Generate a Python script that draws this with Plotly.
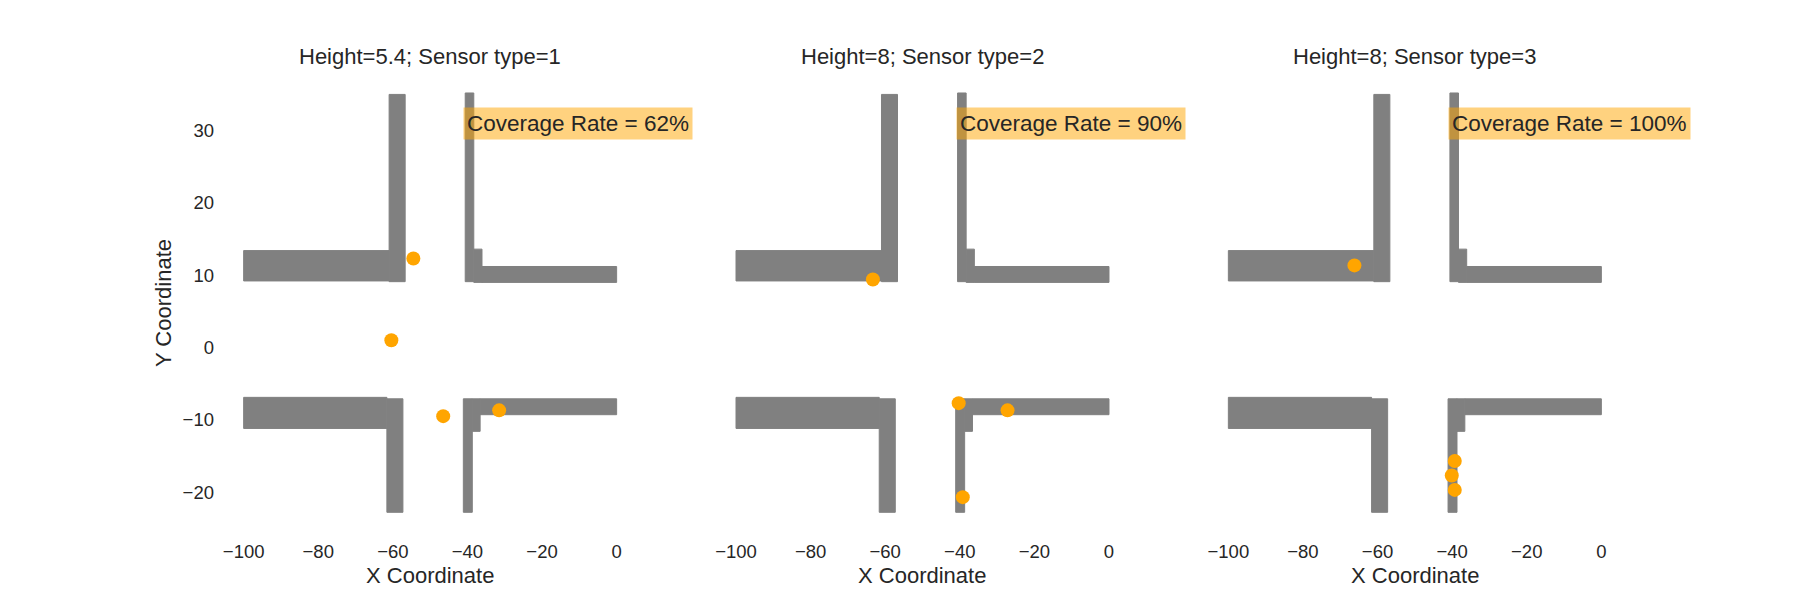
import plotly.graph_objects as go
from plotly.subplots import make_subplots

# wall rectangles (same floor plan in every panel)
wall_x0 = [-100, -61.0, -40.6, -38.3, -36.1, -100, -61.6, -41.1, -38.7, -36.6]
wall_x1 = [-61.0, -56.7, -38.3, -36.1, 0, -61.6, -57.3, -38.7, -36.6, 0]
wall_y0 = [9.2, 9.1, 9.1, 9.0, 9.0, -11.2, -22.8, -22.8, -11.6, -9.3]
wall_y1 = [13.4, 35.0, 35.2, 13.6, 11.2, -6.9, -7.1, -7.1, -7.1, -7.1]

# sensor positions per panel
titles = ["Height=5.4; Sensor type=1", "Height=8; Sensor type=2", "Height=8; Sensor type=3"]
coverage = [62, 90, 100]
sensor_x = [
    [-54.5, -60.4, -46.5, -31.5],
    [-63.3, -40.3, -27.2, -39.2],
    [-66.2, -39.3, -40.1, -39.3],
]
sensor_y = [
    [12.3, 1.0, -9.5, -8.7],
    [9.4, -7.7, -8.7, -20.7],
    [11.35, -15.7, -17.7, -19.7],
]

x_ticks = [-100, -80, -60, -40, -20, 0]
y_ticks = [-20, -10, 0, 10, 20, 30]

FONT = "Arial, Liberation Sans, sans-serif"
TXT = "#262626"

fig = make_subplots(rows=1, cols=3, shared_yaxes=True)

# page has an 8px body margin, so domains are nudged left/up to compensate
dx = 8 / 1800
dy = 8 / 600
domains = [[0.125 - dx, 0.35294 - dx], [0.39853 - dx, 0.62647 - dx], [0.67206 - dx, 0.9 - dx]]
ydom = [0.11 + dy, 0.88 + dy]

for i in range(3):
    col = i + 1
    xr = "x" if i == 0 else f"x{col}"
    yr = "y" if i == 0 else f"y{col}"
    for k in range(len(wall_x0)):
        fig.add_shape(type="rect", xref=xr, yref=yr,
                      x0=wall_x0[k], x1=wall_x1[k], y0=wall_y0[k], y1=wall_y1[k],
                      fillcolor="#808080", line=dict(width=1, color="#808080"), layer="below")
    fig.add_trace(go.Scatter(x=sensor_x[i], y=sensor_y[i], mode="markers",
                             marker=dict(color="#FFA500", size=14),
                             showlegend=False, hoverinfo="x+y"),
                  row=1, col=col)
    fig.add_annotation(xref=xr, yref=yr, x=-41.1, y=31.0, xanchor="left", yanchor="middle",
                       text=f"Coverage Rate = {coverage[i]}%", showarrow=False,
                       bgcolor="rgba(255,165,0,0.5)", borderpad=3,
                       font=dict(family=FONT, size=22.5, color=TXT))
    # panel title
    fig.add_annotation(xref="paper", yref="paper", x=sum(domains[i]) / 2, y=ydom[1],
                       xanchor="center", yanchor="bottom", yshift=1,
                       text=titles[i], showarrow=False,
                       font=dict(family=FONT, size=22, color=TXT))
    # x axis title
    fig.add_annotation(xref="paper", yref="paper", x=sum(domains[i]) / 2, y=1 - 567 / 600,
                       xanchor="center", yanchor="middle",
                       text="X Coordinate", showarrow=False,
                       font=dict(family=FONT, size=22, color=TXT))
    fig.update_xaxes(row=1, col=col, domain=domains[i], range=[-105, 5],
                     tickvals=x_ticks, showgrid=False, zeroline=False, showline=False,
                     ticks="", ticklabelstandoff=4,
                     tickfont=dict(family=FONT, size=18.5, color=TXT),
                     automargin=False)
    fig.update_yaxes(row=1, col=col, domain=ydom, range=[-25.8, 38.1],
                     tickvals=y_ticks, showgrid=False, zeroline=False, showline=False,
                     ticks="", showticklabels=(i == 0), ticklabelstandoff=10,
                     tickfont=dict(family=FONT, size=18.5, color=TXT),
                     automargin=False)

fig.update_yaxes(row=1, col=1, title=dict(text="Y Coordinate", standoff=4,
                                          font=dict(family=FONT, size=22, color=TXT)))

fig.update_layout(width=1800, height=600, margin=dict(l=0, r=0, t=0, b=0),
                  plot_bgcolor="white", paper_bgcolor="white",
                  font=dict(family=FONT, color=TXT))

fig.write_html("out.html")
